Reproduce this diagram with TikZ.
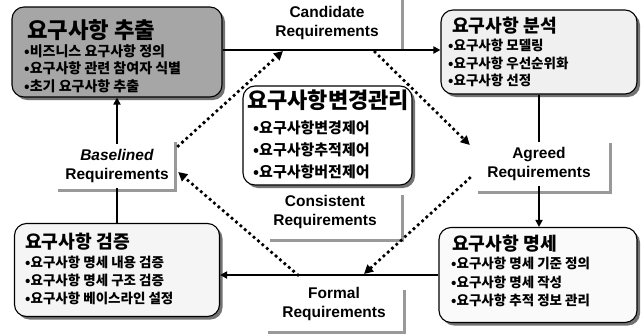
\documentclass[tikz,border=0pt]{standalone}
\usepackage{fontspec}
\setmainfont{Liberation Sans}
\newfontfamily\kr{Noto Sans CJK KR}
\usetikzlibrary{arrows.meta,shadows}
\begin{document}
\begin{tikzpicture}[x=1pt,y=-1pt,
  box/.style={draw=black, line width=1.1pt, rounded corners=12pt, anchor=center, inner sep=0pt,
    drop shadow={shadow xshift=3pt, shadow yshift=-3pt, fill=black!55, opacity=1}},
  ln/.style={anchor=base west, inner sep=0pt, font=\kr\bfseries\fontsize{13.5}{16}\selectfont},
  tl/.style={anchor=base west, inner sep=0pt, font=\kr\bfseries\fontsize{18.2}{20}\selectfont},
  lbl/.style={font=\bfseries\fontsize{15.5}{19.5}\selectfont, align=center, inner xsep=0pt, inner ysep=5pt},
  lblsh/.style={draw=black!40, line width=3pt},
  conn/.style={draw=black, line width=2pt},
  arr/.style={conn, -{Triangle[length=7pt,width=7pt]}},
  dots/.style={draw=black, line width=3.8pt, line cap=round, dash pattern=on 0pt off 5.8pt,
    -{Triangle[length=9pt,width=9pt]}}
]
\useasboundingbox (0,0) rectangle (641,335);

% label shadows
\draw[lblsh] (402,0) -- (402,50);
\draw[lblsh] (478,192) -| (610,143);
\draw[lblsh] (270,240) -| (402,195);
\draw[lblsh] (268,332) -| (404,290);
\draw[lblsh] (58,190) -| (175,142);

% boxes
\node[box, fill=black!35, minimum width=210pt, minimum height=90pt] (ext) at (117,52) {};
\node[box, fill=black!6, minimum width=196pt, minimum height=84pt] (ana) at (539,52) {};
\node[box, fill=black!4, minimum width=205pt, minimum height=93pt] (ver) at (117,270) {};
\node[box, fill=black!2, minimum width=198pt, minimum height=95pt] (spec) at (538,275) {};
\node[box, fill=white, minimum width=169pt, minimum height=99pt] (chg) at (327.5,135.5) {};

% box texts
\node[tl, font=\kr\bfseries\fontsize{22.3}{24}\selectfont] (ext-t) at (27,38) {요구사항 추출};
\node[ln, font=\kr\bfseries\fontsize{14}{16}\selectfont] (ext-1) at (24,56) {•비즈니스 요구사항 정의};
\node[ln, font=\kr\bfseries\fontsize{14}{16}\selectfont] (ext-2) at (24,73.5) {•요구사항 관련 참여자 식별};
\node[ln, font=\kr\bfseries\fontsize{14}{16}\selectfont] (ext-3) at (24,91) {•초기 요구사항 추출};

\node[tl] (ana-t) at (452,32) {요구사항 분석};
\node[ln] (ana-1) at (448,50) {•요구사항 모델링};
\node[ln] (ana-2) at (448,68) {•요구사항 우선순위화};
\node[ln] (ana-3) at (448,85) {•요구사항 선정};

\node[tl] (ver-t) at (25,248) {요구사항 검증};
\node[ln] (ver-1) at (25,267) {•요구사항 명세 내용 검증};
\node[ln] (ver-2) at (25,285) {•요구사항 명세 구조 검증};
\node[ln] (ver-3) at (25,303) {•요구사항 베이스라인 설정};

\node[tl] (spec-t) at (452,250) {요구사항 명세};
\node[ln] (spec-1) at (451,268) {•요구사항 명세 기준 정의};
\node[ln] (spec-2) at (451,287) {•요구사항 명세 작성};
\node[ln] (spec-3) at (451,305) {•요구사항 추적 정보 관리};

\node[tl, font=\kr\bfseries\fontsize{22}{24}\selectfont] (chg-t) at (247,108) {요구사항변경관리};
\node[ln, font=\kr\bfseries\fontsize{15}{17}\selectfont] (chg-1) at (253,133) {•요구사항변경제어};
\node[ln, font=\kr\bfseries\fontsize{15}{17}\selectfont] (chg-2) at (253,155) {•요구사항추적제어};
\node[ln, font=\kr\bfseries\fontsize{15}{17}\selectfont] (chg-3) at (253,177) {•요구사항버전제어};

% labels
\node[lbl] (cand) at (327,23) {Candidate\\Requirements};
\node[lbl, text width=138pt] (agr) at (539,164) {Agreed\\Requirements};
\node[lbl] (cons) at (325,212) {Consistent\\Requirements};
\node[lbl] (form) at (334,304) {Formal\\Requirements};
\node[lbl, text width=122pt] (bas) at (117,166) {\textit{Baselined}\\Requirements};

% solid flow
\draw[arr] (ext.east |- 0,50) -- (ana.west |- 0,50);
\draw[conn] (agr.north |- ana.south) -- (agr.north);
\draw[arr] (agr.south) -- (agr.south |- spec.north);
\draw[arr] (spec.west) -- (spec.west -| ver.east);
\draw[conn] (ver.north) -- (bas.south);
\draw[arr] (bas.north) -- (ext.south);

% points on the flow lines
\coordinate (tA) at (283,51);
\coordinate (tB) at (375,52);
\coordinate (bC) at (364,274);
\coordinate (bD) at (298,275);

% dotted arrows
\draw[dots] ([yshift=20pt]bas.east) -- (tA);
\draw[dots] (tB) -- ([yshift=19pt]agr.west);
\draw[dots] ([yshift=-14pt]agr.west) -- (bC);
\draw[dots] (bD) -- ([yshift=-6pt]bas.east);
\end{tikzpicture}
\end{document}
